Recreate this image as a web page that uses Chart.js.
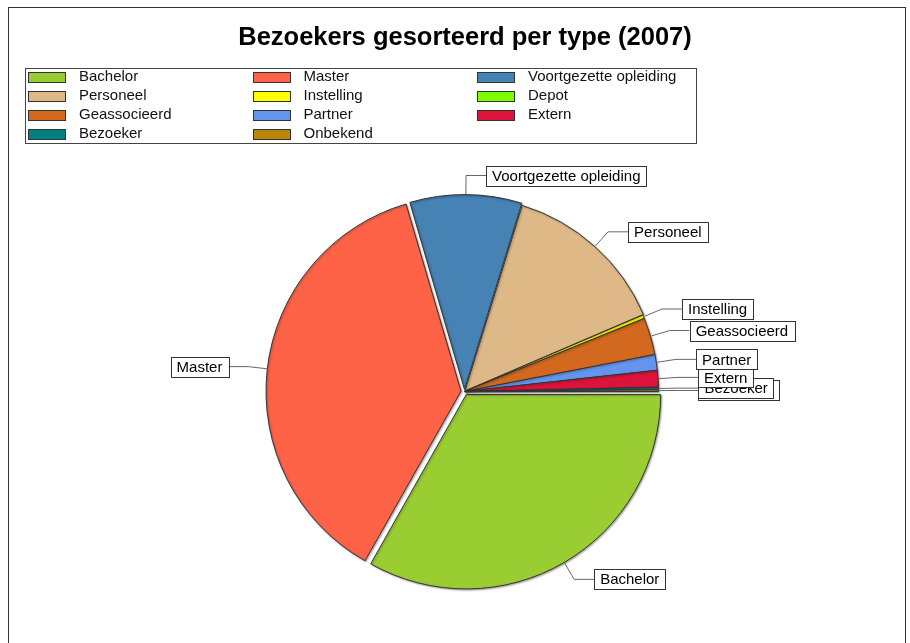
<!DOCTYPE html>
<html>
<head>
<meta charset="utf-8">
<script src="https://cdn.jsdelivr.net/npm/chart.js@4/dist/chart.umd.min.js"></script>
<style>
    body { margin: 0; background: #fff; font-family: "Liberation Sans", Arial, sans-serif; }
    #wrap { position: relative; width: 910px; height: 643px; overflow: hidden; }
    #frame { position: absolute; left: 8px; top: 7px; width: 896px; height: 700px; border: 1px solid #333; }
    #title { position: absolute; left: 0; top: 22px; width: 930px; text-align: center; font-weight: bold; font-size: 25.5px; color: #000; }
    #legend { position: absolute; left: 25px; top: 68px; width: 670px; height: 74px; border: 1px solid #444; background: #fff; }
    .item { position: absolute; height: 19px; font-size: 15px; line-height: 16px; color: #111; }
    .swatch { position: absolute; top: 3px; width: 36px; height: 9px; border: 1px solid #333; }
    .item span { position: absolute; left: 51px; top: -1px; white-space: nowrap; }
    canvas { position: absolute; left: 0; top: 0; }
</style>
</head>
<body>
<div id="wrap">
    <div id="frame"></div>
    <canvas id="pie" width="910" height="643"></canvas>
    <div id="title">Bezoekers gesorteerd per type (2007)</div>
    <div id="legend"></div>
</div>
<script>
// data (share of visitors, %)
const categories = ["Bachelor", "Master", "Voortgezette opleiding", "Personeel", "Instelling", "Depot",
    "Geassocieerd", "Partner", "Extern", "Bezoeker", "Onbekend"];
const visitors = [33.2, 37.3, 9.3, 13.8, 0.3, 0, 3.1, 1.3, 1.4, 0.2, 0.15];
const sliceColors = ["#9ACD32", "#FF6347", "#4682B4", "#DEB887", "#FFFF00", "#7CFC00",
    "#D2691E", "#6495ED", "#DC143C", "#008080", "#B8860B"];

// exploded slices
const sliceOffsets = [14, 14, 8, 3, 0, 0, 0, 0, 0, 0, 0];

// html legend, 3 columns
const legendBox = document.getElementById("legend");
categories.forEach((name, i) => {
    const col = i % 3;
    const row = Math.floor(i / 3);
    const item = document.createElement("div");
    item.className = "item";
    item.style.left = (2 + col * 224.5) + "px";
    item.style.top = (0 + row * 19) + "px";
    item.innerHTML = '<div class="swatch" style="background:' + sliceColors[i] + '"></div><span>' + name + '</span>';
    legendBox.appendChild(item);
});

// soft shadow under the slices
const shadowPlugin = {
    id: "shadow",
    beforeDatasetsDraw(chart) {
        const ctx = chart.ctx;
        ctx.save();
        ctx.shadowColor = "rgba(0,0,0,0.35)";
        ctx.shadowBlur = 2;
        ctx.shadowOffsetX = 1;
        ctx.shadowOffsetY = 1;
    },
    afterDatasetsDraw(chart) {
        chart.ctx.restore();
    }
};

// boxed labels with elbow leader lines
const calloutPlugin = {
    id: "callouts",
    afterDatasetsDraw(chart) {
        const ctx = chart.ctx;
        const meta = chart.getDatasetMeta(0);
        ctx.save();
        ctx.font = "15px 'Liberation Sans', Arial, sans-serif";
        ctx.textBaseline = "middle";
        for (let i = meta.data.length - 1; i >= 0; i--) {
            if (!visitors[i]) continue;
            const arc = meta.data[i];
            const mid = (arc.startAngle + arc.endAngle) / 2;
            const shift = sliceOffsets[i] / 4;
            const cx = arc.x + Math.cos(mid) * shift;
            const cy = arc.y + Math.sin(mid) * shift;
            const r = arc.outerRadius;
            const x0 = cx + Math.cos(mid) * (r + 1);
            const y0 = cy + Math.sin(mid) * (r + 1);
            const x1 = cx + Math.cos(mid) * (r + 20);
            const y1 = cy + Math.sin(mid) * (r + 20);
            const right = Math.cos(mid) >= 0;
            const x2 = right ? x1 + 20 : x1 - 20;
            const w = ctx.measureText(categories[i]).width + 12;
            const h = 20;
            const bx = right ? x2 : x2 - w;

            ctx.strokeStyle = "#666";
            ctx.lineWidth = 1;
            ctx.beginPath();
            ctx.moveTo(x0, y0);
            ctx.lineTo(x1, y1);
            ctx.lineTo(x2, y1);
            ctx.stroke();

            ctx.fillStyle = "#fff";
            ctx.fillRect(bx, y1 - h / 2, w, h);
            ctx.strokeStyle = "#333";
            ctx.strokeRect(Math.round(bx) + 0.5, Math.round(y1 - h / 2) + 0.5, Math.round(w), h);
            ctx.fillStyle = "#000";
            ctx.fillText(categories[i], bx + 6, y1 + 1);
        }
        ctx.restore();
    }
};

new Chart(document.getElementById("pie"), {
    type: "pie",
    data: {
        labels: categories,
        datasets: [{
            data: visitors,
            backgroundColor: sliceColors,
            borderColor: "#333",
            borderWidth: 1,
            offset: sliceOffsets,
            hoverOffset: 0
        }]
    },
    options: {
        responsive: false,
        animation: false,
        rotation: 90,
        layout: { padding: { left: 263, top: 190, right: 244, bottom: 50 } },
        plugins: {
            legend: { display: false },
            title: { display: false },
            tooltip: { enabled: false }
        }
    },
    plugins: [shadowPlugin, calloutPlugin]
});
</script>
</body>
</html>
